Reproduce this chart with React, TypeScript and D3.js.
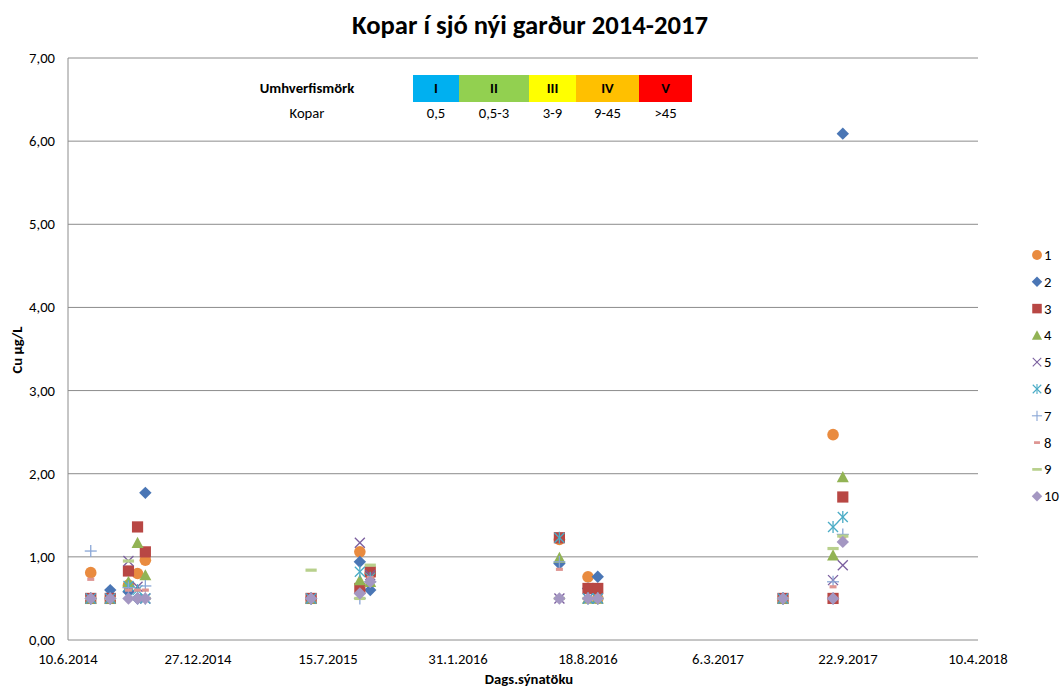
import React from "react";
import * as d3 from "d3";

// ---------- data ----------
const sampleDates = [
  "15.7.2014", "14.8.2014", "11.9.2014", "25.9.2014", "7.10.2014",
  "19.6.2015", "2.9.2015", "18.9.2015",
  "5.7.2016", "18.8.2016", "2.9.2016",
  "14.6.2017", "30.8.2017", "14.9.2017",
];
const seriesNames = ["1", "2", "3", "4", "5", "6", "7", "8", "9", "10"];
const s1 = [0.81, 0.5, 0.66, 0.8, 0.96, 0.5, 1.06, 0.8, 1.21, 0.76, 0.5, 0.5, 2.47, null];
const s2 = [0.5, 0.6, 0.58, 0.5, 1.77, 0.5, 0.94, 0.6, 0.92, 0.62, 0.76, 0.5, 0.5, 6.09];
const s3 = [0.5, 0.5, 0.83, 1.36, 1.06, 0.5, 0.62, 0.82, 1.23, 0.62, 0.62, 0.5, 0.5, 1.72];
const s4 = [0.5, 0.5, 0.7, 1.17, 0.78, 0.5, 0.72, 0.7, 0.99, 0.5, 0.5, 0.5, 1.02, 1.96];
const s5 = [0.5, 0.5, 0.95, 0.64, 0.5, 0.5, 1.17, 0.78, 0.5, 0.5, 0.5, 0.5, 0.72, 0.9];
const s6 = [0.5, 0.5, 0.65, 0.6, 0.5, 0.5, 0.82, 0.75, 1.23, 0.5, 0.5, 0.5, 1.36, 1.48];
const s7 = [1.07, 0.5, 0.63, 0.5, 0.65, 0.5, 0.5, 0.7, 0.94, 0.5, 0.5, 0.5, 0.7, 1.27];
const s8 = [0.73, 0.5, 0.6, 0.6, 0.6, 0.5, 0.5, 0.75, 0.85, 0.5, 0.5, 0.5, 0.64, 1.24];
const s9 = [0.5, 0.5, 0.95, 0.5, 0.5, 0.84, 0.5, 0.9, 0.5, 0.5, 0.5, 0.5, 1.1, 1.25];
const s10 = [0.5, 0.5, 0.5, 0.5, 0.5, 0.5, 0.56, 0.7, 0.5, 0.5, 0.5, 0.5, 0.5, 1.18];
const seriesValues = [s1, s2, s3, s4, s5, s6, s7, s8, s9, s10];

const xStart = "10.6.2014";
const xEnd = "10.4.2018";
const xStepDays = 200;
const yTicks = [0, 1, 2, 3, 4, 5, 6, 7];

const classNames = ["I", "II", "III", "IV", "V"];
const classRanges = ["0,5", "0,5-3", "3-9", "9-45", ">45"];

// ---------- styles ----------
const seriesColors = [
  "#E98B3F", "#4A76B5", "#B84744", "#92B354", "#7B5F9F",
  "#4BACC6", "#8AA7D6", "#DE9592", "#B8D08C", "#A497C2",
];
const seriesShapes = ["circle", "diamond", "square", "triangle", "x", "star", "plus", "dash8", "dash9", "diamond"];
const classColors = ["#00B0F0", "#92D050", "#FFFF00", "#FFC000", "#FF0000"];
const classWidths = [46, 70, 47, 63, 53];

const FONT = "Carlito, Calibri, 'Liberation Sans', Arial, sans-serif";
const FS = 14.67;

function parseD(s: string): Date {
  const [d, m, y] = s.split(".").map(Number);
  return new Date(y, m - 1, d);
}

function Marker({ shape, color, cx, cy, k = 1 }: { shape: string; color: string; cx: number; cy: number; k?: number }) {
  const t = `translate(${cx},${cy}) scale(${k})`;
  switch (shape) {
    case "circle":
      return <circle transform={t} r={5.8} fill={color} />;
    case "diamond":
      return <path transform={t} d="M0,-6.2L6.2,0L0,6.2L-6.2,0Z" fill={color} />;
    case "square":
      return <rect transform={t} x={-5.6} y={-5.6} width={11.2} height={11.2} fill={color} />;
    case "triangle":
      return <path transform={t} d="M0,-6L6,5.2L-6,5.2Z" fill={color} />;
    case "x":
      return (
        <g transform={t} stroke={color} strokeWidth={1.3}>
          <line x1={-5} y1={-5} x2={5} y2={5} />
          <line x1={-5} y1={5} x2={5} y2={-5} />
        </g>
      );
    case "star":
      return (
        <g transform={t} stroke={color} strokeWidth={1.3}>
          <line x1={-5} y1={-5} x2={5} y2={5} />
          <line x1={-5} y1={5} x2={5} y2={-5} />
          <line x1={0} y1={-6} x2={0} y2={6} />
        </g>
      );
    case "plus":
      return (
        <g transform={t} stroke={color} strokeWidth={1.3}>
          <line x1={-6} y1={0} x2={6} y2={0} />
          <line x1={0} y1={-6} x2={0} y2={6} />
        </g>
      );
    case "dash8":
      return <rect transform={t} x={-3.5} y={-1.6} width={7} height={3.2} fill={color} />;
    case "dash9":
      return <rect transform={t} x={-5.6} y={-1.6} width={11.2} height={3.2} fill={color} />;
    default:
      return null;
  }
}

export default function App() {
  const W = 1061;
  const H = 688;
  const left = 68, right = 978, top = 58, bottom = 640;

  const start = parseD(xStart);
  const end = parseD(xEnd);
  const x = d3.scaleTime().domain([start, end]).range([left, right]);
  const y = d3.scaleLinear().domain([0, 7]).range([bottom, top]);
  const nDays = d3.timeDay.count(start, end);
  const xTicks = d3.range(0, nDays + 1, xStepDays).map((d) => d3.timeDay.offset(start, d));
  const fmtDate = d3.timeFormat("%-d.%-m.%Y");
  const fmtY = (v: number) => d3.format(".2f")(v).replace(".", ",");
  const dates = sampleDates.map(parseD);

  // legend table layout
  const boxX0 = 413;
  const boxXs: number[] = [];
  classWidths.reduce((acc, w) => {
    boxXs.push(acc);
    return acc + w;
  }, boxX0);

  return (
    <svg
      width={W}
      height={H}
      style={{ position: "absolute", left: 0, top: 0, background: "#fff" }}
      fontFamily={FONT}
    >
      <rect x={0} y={0} width={W} height={H} fill="#fff" />
      <text x={530} y={34} textAnchor="middle" fontSize={26.67} fontWeight="bold" fill="#000">
        Kopar í sjó nýi garður 2014-2017
      </text>

      {/* gridlines */}
      {yTicks.map((t) => (
        <line key={t} x1={left} x2={right} y1={y(t)} y2={y(t)} stroke="#8C8C8C" strokeWidth={1} />
      ))}
      <line x1={left} x2={left} y1={top} y2={bottom} stroke="#8C8C8C" strokeWidth={1} />

      {/* y tick labels */}
      {yTicks.map((t) => (
        <text key={t} x={55} y={y(t) + 5} textAnchor="end" fontSize={FS} fill="#000">
          {fmtY(t)}
        </text>
      ))}
      {/* x tick labels */}
      {xTicks.map((t, i) => (
        <text key={i} x={x(t)} y={664} textAnchor="middle" fontSize={FS} fill="#000">
          {fmtDate(t)}
        </text>
      ))}

      <text x={529} y={684} textAnchor="middle" fontSize={FS} fontWeight="bold" fill="#000">
        Dags.sýnatöku
      </text>
      <text
        transform={`translate(22,350) rotate(-90)`}
        textAnchor="middle"
        fontSize={FS}
        fontWeight="bold"
        fill="#000"
      >
        Cu µg/L
      </text>

      {/* classification table */}
      <text x={307} y={93} textAnchor="middle" fontSize={FS} fontWeight="bold" fill="#000">
        Umhverfismörk
      </text>
      <text x={307} y={118} textAnchor="middle" fontSize={FS} fill="#000">
        Kopar
      </text>
      {classNames.map((c, i) => (
        <g key={c}>
          <rect x={boxXs[i]} y={75} width={classWidths[i]} height={27} fill={classColors[i]} />
          <text
            x={boxXs[i] + classWidths[i] / 2}
            y={93}
            textAnchor="middle"
            fontSize={FS}
            fontWeight="bold"
            fill="#000"
          >
            {c}
          </text>
          <text x={boxXs[i] + classWidths[i] / 2} y={118} textAnchor="middle" fontSize={FS} fill="#000">
            {classRanges[i]}
          </text>
        </g>
      ))}

      {/* data markers */}
      {seriesValues.map((vals, si) => (
        <g key={si}>
          {vals.map((v, di) =>
            v == null ? null : (
              <Marker
                key={di}
                shape={seriesShapes[si]}
                color={seriesColors[si]}
                cx={x(dates[di])}
                cy={y(v)}
              />
            )
          )}
        </g>
      ))}

      {/* legend */}
      {seriesNames.map((n, i) => {
        const ly = 255 + i * 26.8;
        return (
          <g key={n}>
            <Marker shape={seriesShapes[i]} color={seriesColors[i]} cx={1037} cy={ly} k={0.85} />
            <text x={1044} y={ly + 5} fontSize={FS} fill="#000">
              {n}
            </text>
          </g>
        );
      })}
    </svg>
  );
}
